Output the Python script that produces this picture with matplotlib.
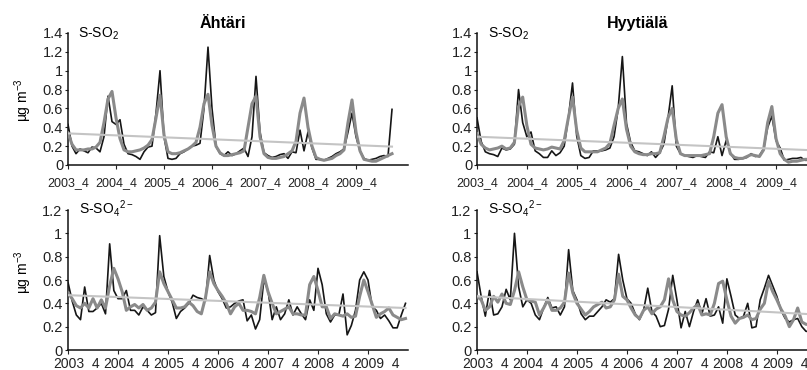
import matplotlib
matplotlib.use("Agg")
import matplotlib.pyplot as plt
import matplotlib.ticker as mticker
import matplotlib.transforms as mtransforms
import numpy as np

plt.rcParams["font.family"] = "Liberation Sans"
plt.rcParams["mathtext.fontset"] = "custom"
plt.rcParams["mathtext.rm"] = "Liberation Sans"
plt.rcParams["mathtext.it"] = "Liberation Sans:italic"
plt.rcParams["mathtext.bf"] = "Liberation Sans:bold"

# ── Data: monthly values, first point = 2003_4 ─────────────────
tick_labels = ["2003_4", "2004_4", "2005_4", "2006_4", "2007_4", "2008_4", "2009_4"]
tick_months = [0, 12, 24, 36, 48, 60, 72]

ahtari_so2_black = [
    0.43, 0.20, 0.12, 0.17, 0.15, 0.13, 0.19, 0.18, 0.14, 0.30, 0.73, 0.46,
    0.43, 0.48, 0.22, 0.12, 0.11, 0.09, 0.06, 0.14, 0.19, 0.20, 0.55, 1.00,
    0.30, 0.07, 0.06, 0.07, 0.12, 0.14, 0.17, 0.20, 0.21, 0.23, 0.60, 1.25,
    0.60, 0.20, 0.12, 0.10, 0.14, 0.10, 0.12, 0.15, 0.18, 0.09, 0.30, 0.94,
    0.35, 0.13, 0.10, 0.08, 0.09, 0.11, 0.12, 0.07, 0.14, 0.13, 0.37, 0.15,
    0.35, 0.18, 0.06, 0.06, 0.05, 0.07, 0.09, 0.12, 0.14, 0.17, 0.35, 0.55,
    0.30, 0.15, 0.07, 0.05, 0.06, 0.07, 0.09, 0.10, 0.09, 0.59,
]
ahtari_so2_grey = [
    0.34, 0.22, 0.16, 0.16, 0.16, 0.17, 0.17, 0.19, 0.24, 0.45, 0.70, 0.78,
    0.50, 0.28, 0.16, 0.14, 0.14, 0.15, 0.16, 0.18, 0.21, 0.27, 0.50, 0.74,
    0.32, 0.14, 0.12, 0.12, 0.13, 0.15, 0.17, 0.20, 0.24, 0.40, 0.65, 0.75,
    0.42, 0.20, 0.13, 0.10, 0.10, 0.11, 0.12, 0.13, 0.15, 0.40, 0.65, 0.73,
    0.30, 0.12, 0.08, 0.07, 0.07, 0.08, 0.09, 0.12, 0.15, 0.25, 0.55, 0.71,
    0.40, 0.20, 0.08, 0.06, 0.05, 0.06, 0.07, 0.10, 0.12, 0.16, 0.45, 0.69,
    0.35, 0.15, 0.06, 0.05, 0.04, 0.04, 0.06, 0.08, 0.10, 0.12,
]
hyytiala_so2_black = [
    0.50, 0.25, 0.14, 0.12, 0.11, 0.09, 0.18, 0.16, 0.17, 0.22, 0.80, 0.45,
    0.30, 0.35, 0.15, 0.12, 0.08, 0.08, 0.15, 0.10, 0.13, 0.20, 0.50, 0.87,
    0.31, 0.10, 0.07, 0.08, 0.15, 0.15, 0.15, 0.16, 0.18, 0.30, 0.60, 1.15,
    0.44, 0.24, 0.15, 0.14, 0.12, 0.10, 0.14, 0.08, 0.13, 0.22, 0.50, 0.84,
    0.20, 0.12, 0.10, 0.09, 0.08, 0.10, 0.09, 0.08, 0.14, 0.13, 0.30, 0.10,
    0.26, 0.13, 0.06, 0.06, 0.07, 0.08, 0.12, 0.09, 0.10, 0.17, 0.40, 0.52,
    0.26, 0.18, 0.05, 0.06, 0.07, 0.07, 0.08, 0.05, 0.05, 0.05,
]
hyytiala_so2_grey = [
    0.33, 0.22, 0.18, 0.16, 0.17, 0.18, 0.20, 0.17, 0.18, 0.24, 0.62, 0.72,
    0.42, 0.22, 0.18, 0.17, 0.16, 0.17, 0.19, 0.18, 0.17, 0.26, 0.50, 0.72,
    0.37, 0.18, 0.14, 0.14, 0.14, 0.14, 0.16, 0.18, 0.23, 0.42, 0.60, 0.70,
    0.38, 0.20, 0.14, 0.12, 0.11, 0.11, 0.12, 0.12, 0.13, 0.30, 0.50, 0.60,
    0.27, 0.12, 0.10, 0.10, 0.10, 0.10, 0.10, 0.11, 0.12, 0.30, 0.55, 0.64,
    0.30, 0.12, 0.08, 0.07, 0.07, 0.09, 0.11, 0.10, 0.09, 0.16, 0.45, 0.62,
    0.28, 0.12, 0.06, 0.03, 0.04, 0.04, 0.05, 0.06, 0.06, 0.07,
]
ahtari_so4_black = [
    0.58, 0.42, 0.30, 0.26, 0.54, 0.33, 0.33, 0.36, 0.40, 0.31, 0.91, 0.51,
    0.44, 0.44, 0.51, 0.34, 0.34, 0.30, 0.37, 0.34, 0.30, 0.32, 0.98, 0.63,
    0.50, 0.41, 0.27, 0.33, 0.36, 0.40, 0.47, 0.45, 0.44, 0.42, 0.81, 0.60,
    0.50, 0.44, 0.36, 0.37, 0.40, 0.42, 0.43, 0.25, 0.30, 0.18, 0.26, 0.60,
    0.51, 0.26, 0.37, 0.26, 0.31, 0.43, 0.30, 0.37, 0.31, 0.26, 0.43, 0.34,
    0.70, 0.56, 0.31, 0.24, 0.30, 0.30, 0.48, 0.13, 0.21, 0.34, 0.60, 0.67,
    0.60, 0.37, 0.34, 0.27, 0.30, 0.25, 0.19, 0.19, 0.30, 0.40,
]
ahtari_so4_grey = [
    0.49, 0.44, 0.38, 0.36, 0.40, 0.36, 0.44, 0.36, 0.43, 0.36, 0.55, 0.70,
    0.61, 0.50, 0.34, 0.37, 0.39, 0.36, 0.39, 0.34, 0.36, 0.41, 0.67, 0.57,
    0.50, 0.43, 0.36, 0.36, 0.37, 0.41, 0.38, 0.33, 0.31, 0.45, 0.67, 0.57,
    0.51, 0.46, 0.40, 0.31, 0.37, 0.40, 0.34, 0.34, 0.33, 0.31, 0.45, 0.64,
    0.50, 0.40, 0.31, 0.33, 0.35, 0.37, 0.31, 0.31, 0.30, 0.30, 0.56, 0.63,
    0.51, 0.37, 0.37, 0.27, 0.31, 0.30, 0.29, 0.31, 0.28, 0.29, 0.46, 0.60,
    0.50, 0.39, 0.28, 0.31, 0.33, 0.36, 0.30, 0.28, 0.26, 0.27,
]
hyytiala_so4_black = [
    0.67, 0.46, 0.29, 0.51, 0.30, 0.31, 0.37, 0.52, 0.43, 1.00, 0.54, 0.37,
    0.43, 0.40, 0.30, 0.26, 0.36, 0.45, 0.36, 0.37, 0.30, 0.37, 0.86, 0.51,
    0.43, 0.31, 0.26, 0.29, 0.29, 0.33, 0.37, 0.43, 0.41, 0.44, 0.82, 0.60,
    0.44, 0.40, 0.31, 0.26, 0.34, 0.53, 0.33, 0.29, 0.20, 0.21, 0.35, 0.64,
    0.43, 0.19, 0.33, 0.20, 0.33, 0.43, 0.31, 0.44, 0.29, 0.30, 0.37, 0.23,
    0.61, 0.46, 0.30, 0.27, 0.29, 0.40, 0.19, 0.20, 0.43, 0.53, 0.64, 0.55,
    0.46, 0.34, 0.27, 0.24, 0.26, 0.27, 0.20, 0.16, 0.16, 0.16,
]
hyytiala_so4_grey = [
    0.46, 0.43, 0.34, 0.37, 0.46, 0.41, 0.48, 0.40, 0.39, 0.51, 0.67, 0.54,
    0.43, 0.42, 0.41, 0.30, 0.36, 0.43, 0.34, 0.34, 0.36, 0.41, 0.66, 0.49,
    0.40, 0.35, 0.30, 0.33, 0.37, 0.39, 0.41, 0.36, 0.37, 0.43, 0.65, 0.46,
    0.43, 0.36, 0.30, 0.27, 0.34, 0.37, 0.31, 0.35, 0.37, 0.43, 0.61, 0.43,
    0.33, 0.30, 0.29, 0.32, 0.36, 0.39, 0.30, 0.31, 0.30, 0.40, 0.57, 0.59,
    0.43, 0.29, 0.23, 0.27, 0.28, 0.30, 0.26, 0.27, 0.35, 0.40, 0.59, 0.50,
    0.43, 0.35, 0.29, 0.20, 0.26, 0.36, 0.24, 0.22, 0.22, 0.22,
]

# linear trend, value at first and last month
trend_months = [0, 81]
ahtari_so2_trend = [0.335, 0.195]
hyytiala_so2_trend = [0.30, 0.156]
ahtari_so4_trend = [0.47, 0.36]
hyytiala_so4_trend = [0.46, 0.305]

# ── Layout (pixels) ───────────────────────────────────────────
W, H = 807, 370
fig = plt.figure(figsize=(W / 100, H / 100), dpi=100)


def px_axes(left, top, width, height):
    return fig.add_axes([left / W, 1 - (top + height) / H, width / W, height / H])


panels = [
    # black, grey, trend, left, top, width, height, xmax, ymax, lower
    (ahtari_so2_black, ahtari_so2_grey, ahtari_so2_trend, 68, 33, 340, 132, 85, 1.4, False),
    (hyytiala_so2_black, hyytiala_so2_grey, hyytiala_so2_trend, 477, 33, 353, 132, 85, 1.4, False),
    (ahtari_so4_black, ahtari_so4_grey, ahtari_so4_trend, 68, 210, 340, 140, 81.6, 1.2, True),
    (hyytiala_so4_black, hyytiala_so4_grey, hyytiala_so4_trend, 477, 210, 354, 140, 85, 1.2, True),
]

for black, grey, trend, left, top, width, height, xmax, ymax, lower in panels:
    ax = px_axes(left, top, width, height)
    ax.plot(np.arange(len(black)), black, color="#161616", linewidth=1.2, zorder=2)
    ax.plot(np.arange(len(grey)), grey, color="#8a8a8a", linewidth=2.2, zorder=3)
    ax.plot(trend_months, trend, color="#c4c4c4", linewidth=1.5, zorder=4)

    ax.set_xlim(0, xmax)
    ax.set_ylim(0, ymax)
    ax.set_yticks(np.arange(0, ymax + 0.01, 0.2))
    ax.yaxis.set_major_formatter(mticker.FuncFormatter(lambda v, _: f"{v:g}"))
    ax.set_xticks(tick_months)
    ax.set_xticklabels(tick_labels)

    for side in ["top", "right"]:
        ax.spines[side].set_visible(False)
    for side in ["left", "bottom"]:
        ax.spines[side].set_linewidth(1.1)
        ax.spines[side].set_color("#111111")

    if lower:
        ax.tick_params(axis="x", length=3, width=0.8, pad=1, labelsize=10)
        ax.tick_params(axis="y", length=2.5, width=0.8, pad=1.5, labelsize=10.5)
        shift = mtransforms.ScaledTranslation(9 / 100, 0, fig.dpi_scale_trans)
        for lab in ax.get_xticklabels():
            lab.set_transform(lab.get_transform() + shift)
    else:
        ax.tick_params(axis="x", length=3, width=0.8, pad=5.5, labelsize=9)
        ax.tick_params(axis="y", length=2.5, width=0.8, pad=1, labelsize=10.5)
    ax.tick_params(colors="#222222")


def ftext(x, y, s, **kw):
    fig.text(x / W, 1 - y / H, s, **kw)


ftext(223, 28, "Ähtäri", ha="center", va="baseline", fontsize=11.5, fontweight="bold")
ftext(638, 28, "Hyytiälä", ha="center", va="baseline", fontsize=11.5, fontweight="bold")

so2_label = r"S-SO$_\mathregular{2}$"
so4_label = r"S-SO$_\mathregular{4}$$^\mathregular{2-}$"
ftext(78, 38, so2_label, va="baseline", fontsize=10)
ftext(488, 38, so2_label, va="baseline", fontsize=10)
ftext(79, 214, so4_label, va="baseline", fontsize=10)
ftext(488, 214, so4_label, va="baseline", fontsize=10)

unit = r"µg m$^\mathregular{-3}$"
ftext(23, 100, unit, ha="center", va="center", rotation=90, fontsize=10)
ftext(23, 272, unit, ha="center", va="center", rotation=90, fontsize=10)

plt.savefig("out.png", dpi=100)
plt.close()
